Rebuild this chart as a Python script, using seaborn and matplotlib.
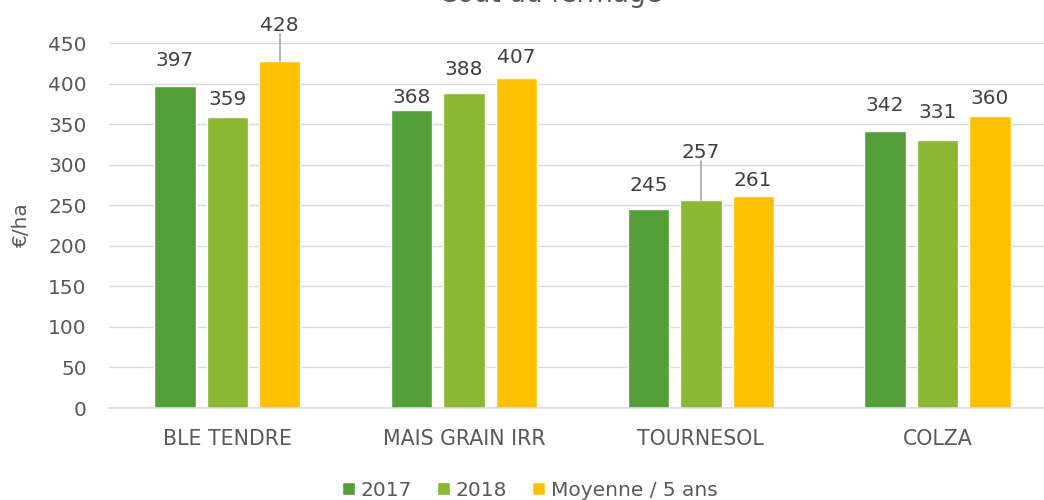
import matplotlib
matplotlib.use("Agg")
import matplotlib.pyplot as plt
import seaborn as sns
import pandas as pd

# Values (€/ha) per crop and series
categories = ["BLE TENDRE", "MAIS GRAIN IRR", "TOURNESOL", "COLZA"]
series = ["2017", "2018", "Moyenne / 5 ans"]
values_2017 = [397, 368, 245, 342]
values_2018 = [359, 388, 257, 331]
values_moy5 = [428, 407, 261, 360]
yticks = [0, 50, 100, 150, 200, 250, 300, 350, 400, 450]

colors = ["#549E39", "#8AB833", "#FFC000"]

# Vertical lift of each value label above its bar (data units), per series
label_lift = [
    [31, 15, 29, 31],
    [21, 29, 58, 33],
    [44, 25, 20, 21],
]
# Labels that are joined to their bar with a thin leader line: (series, category)
leaders = [(2, 0), (1, 2)]

df = pd.DataFrame({
    "culture": categories * 3,
    "serie": [series[0]] * 4 + [series[1]] * 4 + [series[2]] * 4,
    "valeur": values_2017 + values_2018 + values_moy5,
})

sns.set_theme(style="white")
plt.rcParams["font.family"] = ["DejaVu Sans"]

fig = plt.figure(figsize=(10.44, 5.0), dpi=100)
ax = fig.add_axes([0.1044, 0.184, 0.907, 0.73])

sns.barplot(data=df, x="culture", y="valeur", hue="serie", order=categories,
            hue_order=series, palette=colors, width=0.664, gap=0.21,
            saturation=1, ax=ax, errorbar=None)

ax.set_xlim(-0.5, 3.5)
ax.set_ylim(0, 450)
ax.set_yticks(yticks)
ax.yaxis.grid(True, color="#D9D9D9", linewidth=1.0)
ax.set_axisbelow(True)
for side in ["top", "right", "left"]:
    ax.spines[side].set_visible(False)
ax.spines["bottom"].set_color("#D9D9D9")
ax.spines["bottom"].set_linewidth(1.2)

ax.tick_params(axis="y", length=0, pad=16, labelsize=14.5, labelcolor="#595959")
ax.tick_params(axis="x", length=0, pad=15, labelsize=14.8, labelcolor="#595959")
ax.set_xlabel("")
ax.set_ylabel("€/ha", fontsize=14.5, color="#595959", labelpad=12)

# Value labels above the bars
for si, container in enumerate(ax.containers):
    for ci, bar in enumerate(container.patches):
        h = bar.get_height()
        xc = bar.get_x() + bar.get_width() / 2
        ly = h + label_lift[si][ci]
        ax.text(xc, ly, f"{h:.0f}", ha="center", va="center", fontsize=14.5,
                color="#404040", clip_on=False)
        if (si, ci) in leaders:
            ax.plot([xc, xc], [h, ly - 11], color="#A6A6A6", lw=1.2,
                    clip_on=False, zorder=1)

# Legend under the chart
handles, labels = ax.get_legend_handles_labels()
ax.legend(handles, labels, loc="center", bbox_to_anchor=(0.5076, 0.02),
          bbox_transform=fig.transFigure, ncol=3, frameon=False, fontsize=14.5,
          handlelength=0.62, handleheight=0.62, handletextpad=0.3,
          columnspacing=1.25, labelcolor="#595959")

fig.text(0.527, 0.997, "Coût du fermage", ha="center", va="baseline",
         fontsize=19, color="#595959")

fig.savefig("out.png", dpi=100, facecolor="white")
